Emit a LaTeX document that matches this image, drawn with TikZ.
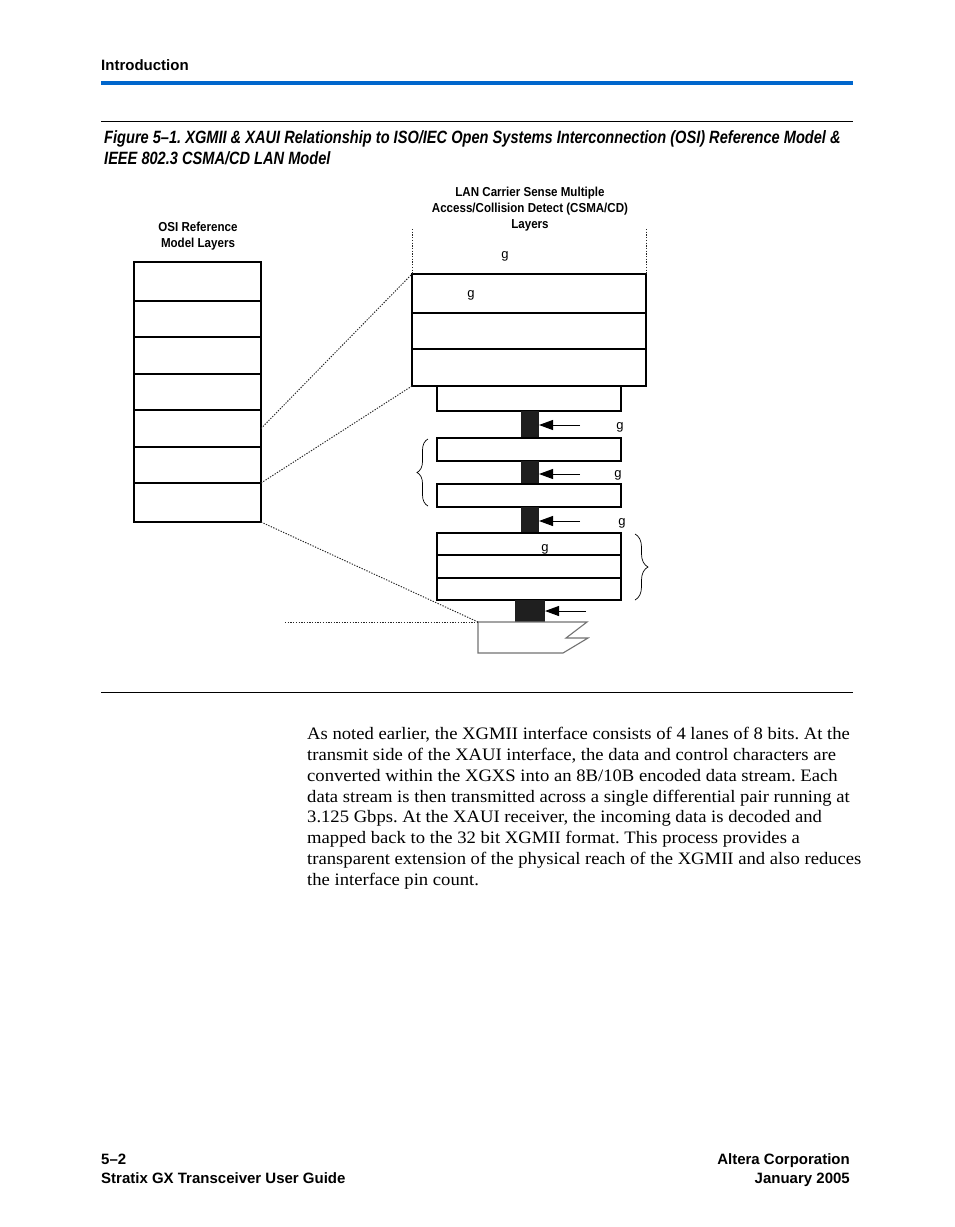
\documentclass[tikz,border=0pt]{standalone}
\usepackage{fontspec}
\setmainfont[FakeStretch=1.065]{Liberation Serif}
\newfontfamily\hel{Liberation Sans}
\newfontfamily\heln[FakeStretch=0.82]{Liberation Sans}
\newfontfamily\helm[FakeStretch=0.89]{Liberation Sans}
\usetikzlibrary{arrows.meta,decorations.pathreplacing}
\definecolor{alterablue}{RGB}{0,102,204}
\frenchspacing
\begin{document}
\begin{tikzpicture}[x=1pt,y=-1pt,
  lay/.style 2 args={draw, line width=1.1pt, inner sep=0pt, outer sep=0pt, anchor=north west, minimum width=#1pt, minimum height=#2pt},
  blk/.style 2 args={fill=black!88, draw=none, inner sep=0pt, outer sep=0pt, anchor=north west, minimum width=#1pt, minimum height=#2pt},
  dotline/.style={line width=0.95pt, dash pattern=on 1.3pt off 1.4pt, black!85},
  arr/.style={line width=1pt, -{Triangle[length=14pt,width=10pt]}},
  brc/.style={line width=0.7pt, decorate},
  lab/.style={font=\helm\bfseries\fontsize{13}{15}\selectfont, anchor=base},
  gl/.style={font=\hel\fontsize{13}{15}\selectfont, anchor=base, inner sep=0pt},
  bodytxt/.style={font=\fontsize{17.5}{21}\selectfont, anchor=base west, inner sep=0pt},
  hdrtxt/.style={font=\hel\bfseries\fontsize{15}{18}\selectfont, inner sep=0pt},
  captxt/.style={font=\heln\bfseries\itshape\fontsize{17.8}{20}\selectfont, anchor=base west, inner sep=0pt}
]
\useasboundingbox (0,0) rectangle (954,1227);
\fill[white] (0,0) rectangle (954,1227);

% header
\node[hdrtxt, anchor=base west] (intro) at (101,70) {Introduction};
\fill[alterablue] (101,81) rectangle (853,85);
\draw[line width=1pt] (101,121) -- (853,121);
\node[captxt] (cap1) at (104,143) {Figure 5–1. XGMII \& XAUI Relationship to ISO/IEC Open Systems Interconnection (OSI) Reference Model \&};
\node[captxt] (cap2) at (104,164) {IEEE 802.3 CSMA/CD LAN Model};

% labels
\node[lab] (osil1) at (198,231.5) {OSI Reference};
\node[lab] (osil2) at (198,247.5) {Model Layers};
\node[lab] (lanl1) at (530,196.5) {LAN Carrier Sense Multiple};
\node[lab] (lanl2) at (530,212.5) {Access/Collision Detect (CSMA/CD)};
\node[lab] (lanl3) at (530,228.5) {Layers};

% OSI stack
\node[lay={127}{39}] (osi1) at (134,262) {};
\node[lay={127}{36}] (osi2) at (134,301) {};
\node[lay={127}{37}] (osi3) at (134,337) {};
\node[lay={127}{36}] (osi4) at (134,374) {};
\node[lay={127}{37}] (osi5) at (134,410) {};
\node[lay={127}{36}] (osi6) at (134,447) {};
\node[lay={127}{39}] (osi7) at (134,483) {};

% LAN stack
\coordinate (vl) at (412,229);
\coordinate (vr) at (646,229);
\node[lay={234}{39}] (rc1) at (412,274) {};
\node[lay={234}{36}] (rc2) at (412,313) {};
\node[lay={234}{37}] (rc3) at (412,349) {};
\draw[dotline] (vl) -- (rc1.north west);
\draw[dotline] (vr) -- (rc1.north east);
\node[lay={184}{25}] (rs) at (437,386) {};
\node[blk={18}{27}] (bar1) at (521,411) {};
\node[lay={184}{23}] (b2) at (437,438) {};
\node[blk={18}{23}] (bar2) at (521,461) {};
\node[lay={184}{23}] (b3) at (437,484) {};
\node[blk={18}{26}] (bar3) at (521,507) {};
\node[lay={184}{22}] (p1) at (437,533) {};
\node[lay={184}{23}] (p2) at (437,555) {};
\node[lay={184}{22}] (p3) at (437,578) {};
\node[blk={30}{22}] (bar4) at (515,600) {};

% medium
\coordinate (mdi) at (478,622);
\draw[black!55, line width=1.1pt] (mdi) -- (587,622) -- (566,638) -- (588,638) -- (563,653) -- (478,653) -- cycle;

% arrows
\coordinate (a1) at (580,425);
\coordinate (a2) at (580,474);
\coordinate (a3) at (580,521);
\coordinate (a4) at (586,611);
\draw[arr] (a1) -- (a1 -| bar1.east);
\draw[arr] (a2) -- (a2 -| bar2.east);
\draw[arr] (a3) -- (a3 -| bar3.east);
\draw[arr] (a4) -- (a4 -| bar4.east);

% g labels
\node[gl] (g1) at (505,258) {g};
\node[gl] (g2) at (471,297) {g};
\node[gl] (g3) at (620,429) {g};
\node[gl] (g4) at (618,477) {g};
\node[gl] (g5) at (622,525) {g};
\node[gl] (g6) at (545,551) {g};

% braces
\coordinate (lbb) at (428,506);
\coordinate (lbt) at (428,439);
\draw[brc, decoration={brace, amplitude=11pt}] (lbb) -- (lbt);
\coordinate (rbt) at (635,534);
\coordinate (rbb) at (635,600);
\draw[brc, decoration={brace, amplitude=13pt}] (rbt) -- (rbb);

% dotted mapping lines
\coordinate (hd) at (285,622);
\draw[dotline] (osi5.east) -- (rc1.north west);
\draw[dotline] (osi6.south east) -- (rc3.south west);
\draw[dotline] (osi7.south east) -- (mdi);
\draw[dotline] (hd) -- (mdi);

\draw[line width=1pt] (101,692) -- (853,692);

% body text
\node[bodytxt] (t1) at (307,739.5) {As noted earlier, the XGMII interface consists of 4 lanes of 8 bits. At the};
\node[bodytxt] (t2) at (307,760.4) {transmit side of the XAUI interface, the data and control characters are};
\node[bodytxt] (t3) at (307,781.2) {converted within the XGXS into an 8B/10B encoded data stream. Each};
\node[bodytxt] (t4) at (307,802.1) {data stream is then transmitted across a single differential pair running at};
\node[bodytxt] (t5) at (307,822.9) {3.125 Gbps. At the XAUI receiver, the incoming data is decoded and};
\node[bodytxt] (t6) at (307,843.8) {mapped back to the 32 bit XGMII format. This process provides a};
\node[bodytxt] (t7) at (307,864.7) {transparent extension of the physical reach of the XGMII and also reduces};
\node[bodytxt] (t8) at (307,885.5) {the interface pin count.};

% footer
\node[hdrtxt, anchor=base west] (f1) at (101,1164) {5–2};
\node[hdrtxt, anchor=base west] (f2) at (101,1183) {Stratix GX Transceiver User Guide};
\node[hdrtxt, anchor=base east] (f3) at (850,1164) {Altera Corporation};
\node[hdrtxt, anchor=base east] (f4) at (850,1183) {January 2005};
\end{tikzpicture}
\end{document}
